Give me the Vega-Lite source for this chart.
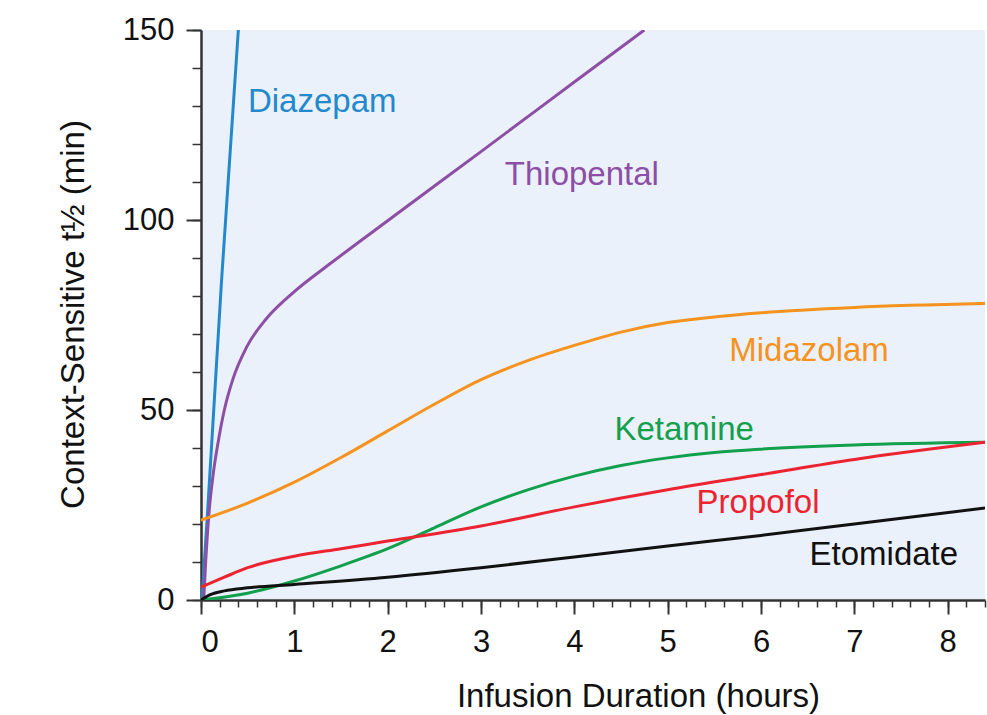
{
  "$schema": "https://vega.github.io/schema/vega-lite/v6.json",
  "autosize": "none",
  "width": 784,
  "height": 570,
  "padding": {"left": 201, "top": 30, "right": 2, "bottom": 115},
  "background": "#ffffff",
  "config": {
    "font": "Liberation Sans",
    "view": {"fill": "#ebf1fa", "stroke": null}
  },
  "datasets": {
    "curves": [
      {"drug": "Diazepam", "t": 0.01, "v": 0},
      {"drug": "Diazepam", "t": 0.07, "v": 23},
      {"drug": "Diazepam", "t": 0.22, "v": 84},
      {"drug": "Diazepam", "t": 0.4, "v": 150},
      {"drug": "Thiopental", "t": 0.03, "v": 0.5},
      {"drug": "Thiopental", "t": 0.05, "v": 10},
      {"drug": "Thiopental", "t": 0.086, "v": 23},
      {"drug": "Thiopental", "t": 0.13, "v": 33},
      {"drug": "Thiopental", "t": 0.18, "v": 41},
      {"drug": "Thiopental", "t": 0.25, "v": 50},
      {"drug": "Thiopental", "t": 0.34, "v": 58},
      {"drug": "Thiopental", "t": 0.49, "v": 66.6},
      {"drug": "Thiopental", "t": 0.7, "v": 74},
      {"drug": "Thiopental", "t": 0.97, "v": 80.5},
      {"drug": "Thiopental", "t": 1.4, "v": 88.8},
      {"drug": "Thiopental", "t": 2, "v": 99.8},
      {"drug": "Thiopental", "t": 3, "v": 118},
      {"drug": "Thiopental", "t": 4, "v": 136.3},
      {"drug": "Thiopental", "t": 4.75, "v": 150},
      {"drug": "Midazolam", "t": 0, "v": 21},
      {"drug": "Midazolam", "t": 0.5, "v": 25.5},
      {"drug": "Midazolam", "t": 1, "v": 31},
      {"drug": "Midazolam", "t": 1.5, "v": 37.5},
      {"drug": "Midazolam", "t": 2, "v": 44.5},
      {"drug": "Midazolam", "t": 2.5, "v": 51.5},
      {"drug": "Midazolam", "t": 3, "v": 58},
      {"drug": "Midazolam", "t": 3.5, "v": 63},
      {"drug": "Midazolam", "t": 4, "v": 67},
      {"drug": "Midazolam", "t": 4.5, "v": 70.5},
      {"drug": "Midazolam", "t": 5, "v": 73},
      {"drug": "Midazolam", "t": 5.5, "v": 74.5},
      {"drug": "Midazolam", "t": 6, "v": 75.6},
      {"drug": "Midazolam", "t": 7, "v": 77},
      {"drug": "Midazolam", "t": 8.4, "v": 78},
      {"drug": "Ketamine", "t": 0, "v": 0},
      {"drug": "Ketamine", "t": 0.5, "v": 1.8},
      {"drug": "Ketamine", "t": 1, "v": 5},
      {"drug": "Ketamine", "t": 1.5, "v": 9},
      {"drug": "Ketamine", "t": 2, "v": 13.5},
      {"drug": "Ketamine", "t": 2.5, "v": 19},
      {"drug": "Ketamine", "t": 3, "v": 24.5},
      {"drug": "Ketamine", "t": 3.5, "v": 29},
      {"drug": "Ketamine", "t": 4, "v": 32.6},
      {"drug": "Ketamine", "t": 4.5, "v": 35.4},
      {"drug": "Ketamine", "t": 5, "v": 37.4},
      {"drug": "Ketamine", "t": 5.5, "v": 38.8},
      {"drug": "Ketamine", "t": 6, "v": 39.7},
      {"drug": "Ketamine", "t": 7, "v": 40.8},
      {"drug": "Ketamine", "t": 8.4, "v": 41.5},
      {"drug": "Propofol", "t": 0, "v": 3.4},
      {"drug": "Propofol", "t": 0.25, "v": 6},
      {"drug": "Propofol", "t": 0.5, "v": 8.5},
      {"drug": "Propofol", "t": 1, "v": 11.5},
      {"drug": "Propofol", "t": 1.5, "v": 13.5},
      {"drug": "Propofol", "t": 2, "v": 15.5},
      {"drug": "Propofol", "t": 3, "v": 19.5},
      {"drug": "Propofol", "t": 4, "v": 24.5},
      {"drug": "Propofol", "t": 5, "v": 29},
      {"drug": "Propofol", "t": 6, "v": 33},
      {"drug": "Propofol", "t": 7, "v": 37},
      {"drug": "Propofol", "t": 8.4, "v": 41.5},
      {"drug": "Etomidate", "t": 0, "v": 0},
      {"drug": "Etomidate", "t": 0.1, "v": 1.4},
      {"drug": "Etomidate", "t": 0.25, "v": 2.4},
      {"drug": "Etomidate", "t": 0.5, "v": 3.2},
      {"drug": "Etomidate", "t": 1, "v": 4.1},
      {"drug": "Etomidate", "t": 2, "v": 6},
      {"drug": "Etomidate", "t": 3, "v": 8.5},
      {"drug": "Etomidate", "t": 4, "v": 11.3},
      {"drug": "Etomidate", "t": 5, "v": 14.2},
      {"drug": "Etomidate", "t": 6, "v": 17},
      {"drug": "Etomidate", "t": 7, "v": 20},
      {"drug": "Etomidate", "t": 8.4, "v": 24.2}
    ],
    "labels": [
      {"drug": "Diazepam", "t": 0.503, "v": 128.4},
      {"drug": "Thiopental", "t": 3.255, "v": 109.2},
      {"drug": "Midazolam", "t": 5.66, "v": 62.9},
      {"drug": "Ketamine", "t": 4.43, "v": 42.1},
      {"drug": "Propofol", "t": 5.31, "v": 22.9},
      {"drug": "Etomidate", "t": 6.52, "v": 9.2}
    ]
  },
  "resolve": {"axis": {"x": "independent", "y": "independent"}},
  "layer": [
    {
      "data": {"name": "labels"},
      "mark": {"type": "text", "align": "left", "baseline": "alphabetic", "fontSize": 33},
      "encoding": {
        "x": {"field": "t", "type": "quantitative",
          "scale": {"domain": [0, 8.4], "nice": false, "zero": false},
          "axis": {"orient": "bottom", "values": [0,0.2,0.4,0.6,0.8,1,1.2,1.4,1.6,1.8,2,2.2,2.4,2.6,2.8,3,3.2,3.4,3.6,3.8,4,4.2,4.4,4.6,4.8,5,5.2,5.4,5.6,5.8,6,6.2,6.4,6.6,6.8,7,7.2,7.4,7.6,7.8,8,8.2,8.4],
            "labels": false, "title": null, "domain": false, "grid": false, "tickSize": 7, "tickWidth": 1.5, "tickColor": "#333333"}},
        "y": {"field": "v", "type": "quantitative",
          "scale": {"domain": [0, 150], "nice": false},
          "axis": {"orient": "left", "values": [0,10,20,30,40,50,60,70,80,90,100,110,120,130,140,150],
            "labels": false, "title": null, "domain": false, "grid": false, "tickSize": 9, "tickWidth": 1.5, "tickColor": "#333333"}},
        "text": {"field": "drug"},
        "color": {"field": "drug", "type": "nominal", "legend": null,
          "scale": {"domain": ["Diazepam", "Thiopental", "Midazolam", "Ketamine", "Propofol", "Etomidate"],
            "range": ["#2389cc", "#8d4ea6", "#f6921e", "#12a04c", "#ec2330", "#111111"]}}
      }
    },
    {
      "data": {"name": "curves"},
      "mark": {"type": "line", "strokeWidth": 3, "interpolate": "monotone", "clip": true},
      "encoding": {
        "x": {"field": "t", "type": "quantitative",
          "scale": {"domain": [0, 8.4], "nice": false, "zero": false},
          "axis": {"orient": "bottom", "values": [0,1,2,3,4,5,6,7,8], "grid": false,
            "title": "Infusion Duration (hours)", "titleFontSize": 33, "titleFontWeight": "normal", "titleColor": "#111111",
            "titleX": 437, "titleY": 106, "titleAlign": "center", "titleBaseline": "alphabetic", "titleAnchor": null,
            "labelFontSize": 31, "labelColor": "#111111", "labelPadding": 13,
            "tickSize": 14, "tickWidth": 2, "tickColor": "#333333", "domainColor": "#333333", "domainWidth": 2.5}},
        "y": {"field": "v", "type": "quantitative",
          "scale": {"domain": [0, 150], "nice": false},
          "axis": {"orient": "left", "values": [0, 50, 100, 150], "grid": false,
            "title": "Context-Sensitive t½ (min)", "titleFontSize": 33, "titleFontWeight": "normal", "titleColor": "#111111",
            "titleX": -118, "titleY": 284, "titleAngle": -90, "titleAlign": "center", "titleBaseline": "alphabetic", "titleAnchor": null,
            "labelFontSize": 31, "labelColor": "#111111", "labelPadding": 12,
            "tickSize": 15, "tickWidth": 2, "tickColor": "#333333", "domainColor": "#333333", "domainWidth": 2.5}},
        "detail": {"field": "drug"},
        "color": {"field": "drug", "type": "nominal", "legend": null,
          "scale": {"domain": ["Diazepam", "Thiopental", "Midazolam", "Ketamine", "Propofol", "Etomidate"],
            "range": ["#1a84c8", "#8d4ea6", "#f6921e", "#12a04c", "#ec2330", "#111111"]}}
      }
    }
  ]
}
